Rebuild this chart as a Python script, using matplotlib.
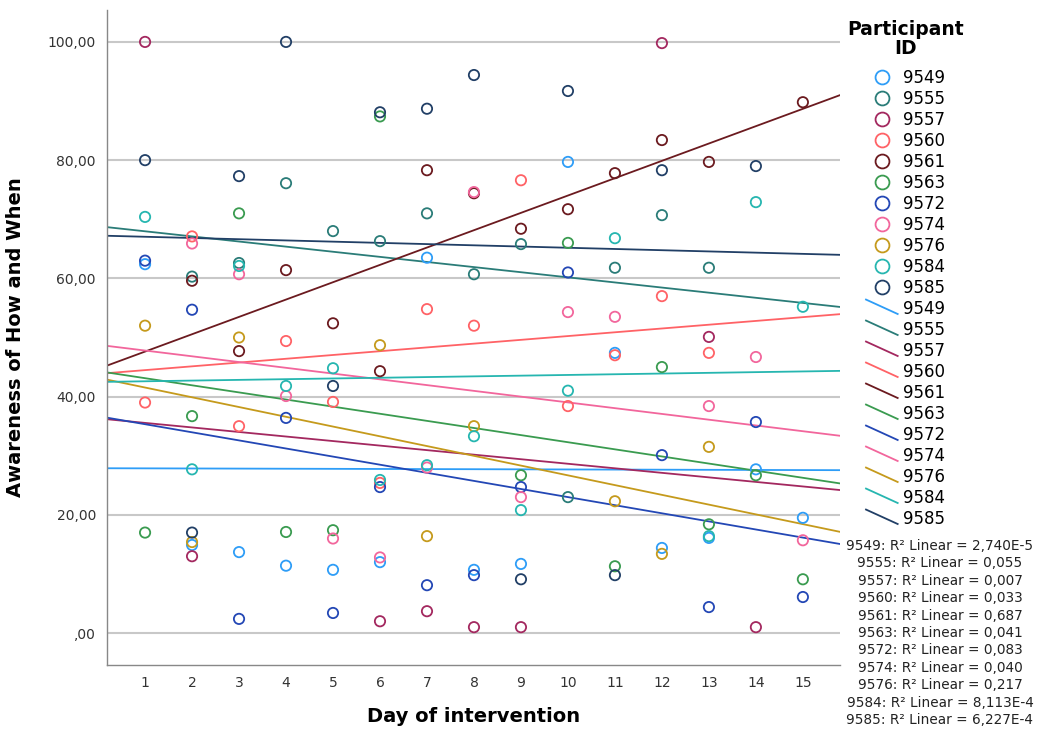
import numpy as np
import matplotlib.pyplot as plt
from matplotlib.lines import Line2D
from matplotlib.legend_handler import HandlerBase

# days of the intervention; None = no response that day
days = list(range(1, 16))

p9549 = [62.4, 14.9, 13.7, 11.4, 10.7, 12.0, 63.5, 10.7, 11.7, 79.7, 47.4, 14.4, 16.1, 27.7, 19.5]
p9555 = [None, 60.3, 62.6, 76.1, 68.0, 66.3, 71.0, 60.7, 65.8, 23.0, 61.8, 70.7, 61.8, None, None]
p9557 = [100.0, 13.0, None, None, None, 2.0, 3.7, 1.0, 1.0, None, None, 99.8, 50.1, 1.0, None]
p9560 = [39.0, 67.1, 35.0, 49.4, 39.1, 25.4, 54.8, 52.0, 76.6, 38.4, 47.0, 57.0, 47.4, None, None]
p9561 = [None, 59.6, 47.7, 61.4, 52.4, 44.3, 78.3, 74.4, 68.4, 71.7, 77.8, 83.4, 79.7, None, 89.8]
p9563 = [17.0, 36.7, 71.0, 17.1, 17.4, 87.4, None, None, 26.7, 66.0, 11.3, 45.0, 18.4, 26.7, 9.1]
p9572 = [63.0, 54.7, 2.4, 36.4, 3.4, 24.7, 8.1, 9.8, 24.7, 61.0, None, 30.1, 4.4, 35.7, 6.1]
p9574 = [None, 65.9, 60.7, 40.1, 16.0, 12.8, 28.0, 74.6, 23.0, 54.3, 53.5, None, 38.4, 46.7, 15.7]
p9576 = [52.0, 15.4, 50.0, None, None, 48.7, 16.4, 35.0, None, None, 22.3, 13.4, 31.5, None, None]
p9584 = [70.4, 27.7, 62.1, 41.8, 44.8, 25.9, 28.4, 33.3, 20.8, 41.0, 66.8, None, 16.4, 72.9, 55.2]
p9585 = [80.0, 17.0, 77.3, 100.0, 41.8, 88.1, 88.7, 94.4, 9.1, 91.7, 9.8, 78.3, None, 79.0, None]

ids = ["9549", "9555", "9557", "9560", "9561", "9563", "9572", "9574", "9576", "9584", "9585"]
series = [p9549, p9555, p9557, p9560, p9561, p9563, p9572, p9574, p9576, p9584, p9585]
colors = ["#2e9df7", "#2a7c78", "#a3285f", "#ff6266", "#6b1a1f", "#3a9b50",
          "#2347b5", "#f2669c", "#c59a1c", "#26b6b0", "#213f66"]

r2_labels = ["2,740E-5", "0,055", "0,007", "0,033", "0,687", "0,041",
             "0,083", "0,040", "0,217", "8,113E-4", "6,227E-4"]

y_ticks = [0, 20, 40, 60, 80, 100]
y_ticklabels = [",00", "20,00", "40,00", "60,00", "80,00", "100,00"]

xmin, xmax = 0.19, 15.79


class DiagLineHandler(HandlerBase):
    """Legend key drawn as a short line sloping down to the right."""

    def create_artists(self, legend, orig_handle, xdescent, ydescent,
                       width, height, fontsize, trans):
        ln = Line2D([-xdescent, width - xdescent],
                    [height - ydescent + 2, -ydescent],
                    color=orig_handle.get_color(), lw=orig_handle.get_linewidth())
        ln.set_transform(trans)
        return [ln]


fig = plt.figure(figsize=(10.42, 7.33), dpi=100)
ax = fig.add_axes([107 / 1042, 68 / 733, 733 / 1042, 655 / 733])

for y in y_ticks:
    ax.axhline(y, color="#c8c8c8", lw=1.5, zorder=0)

xs_line = np.array([xmin, xmax])
for pid, vals, c in zip(ids, series, colors):
    d = np.array([x for x, v in zip(days, vals) if v is not None], dtype=float)
    v = np.array([v for v in vals if v is not None], dtype=float)
    ax.scatter(d, v, s=55, facecolors="none", edgecolors=c, linewidths=1.3, zorder=3)
    slope, icpt = np.polyfit(d, v, 1)
    ax.plot(xs_line, icpt + slope * xs_line, color=c, lw=1.3, zorder=2)

ax.set_xlim(xmin, xmax)
ax.set_ylim(-5.4, 105.4)
ax.set_xticks(days)
ax.set_yticks(y_ticks)
ax.set_yticklabels(y_ticklabels)
ax.tick_params(axis="both", labelsize=10, colors="#333333", length=0, pad=8)
for s in ["top", "right"]:
    ax.spines[s].set_visible(False)
for s in ["left", "bottom"]:
    ax.spines[s].set_color("#888888")
    ax.spines[s].set_linewidth(1.0)

ax.set_xlabel("Day of intervention", fontsize=14, fontweight="bold", labelpad=12)
ax.set_ylabel("Awareness of How and When", fontsize=14, fontweight="bold", labelpad=16)

# legend: title as separate text, markers first, then fit lines
fig.text(906 / 1042, 1 - 39 / 733, "Participant\nID", ha="center", va="center",
         multialignment="center", fontsize=13.5, fontweight="bold", linespacing=1.0)

marker_handles = [Line2D([], [], ls="none", marker="o", ms=10, mfc="none", mec=c, mew=1.3) for c in colors]
line_handles = [Line2D([], [], color=c, lw=1.3) for c in colors]
handler_map = {h: DiagLineHandler() for h in line_handles}
leg = fig.legend(marker_handles + line_handles, ids + ids, loc="upper left",
                 bbox_to_anchor=(866 / 1042, 1 - 69 / 733), frameon=False, fontsize=12,
                 labelspacing=0.18, handlelength=1.9, handletextpad=0.3,
                 borderpad=0, borderaxespad=0, handler_map=handler_map)

for i, (pid, r2) in enumerate(zip(ids, r2_labels)):
    fig.text(940 / 1042, 1 - (546 + i * 17.4) / 733, f"{pid}: R\u00b2 Linear = {r2}",
             ha="center", va="center", fontsize=9.8, color="#222222")

fig.savefig("out.png", dpi=100)
